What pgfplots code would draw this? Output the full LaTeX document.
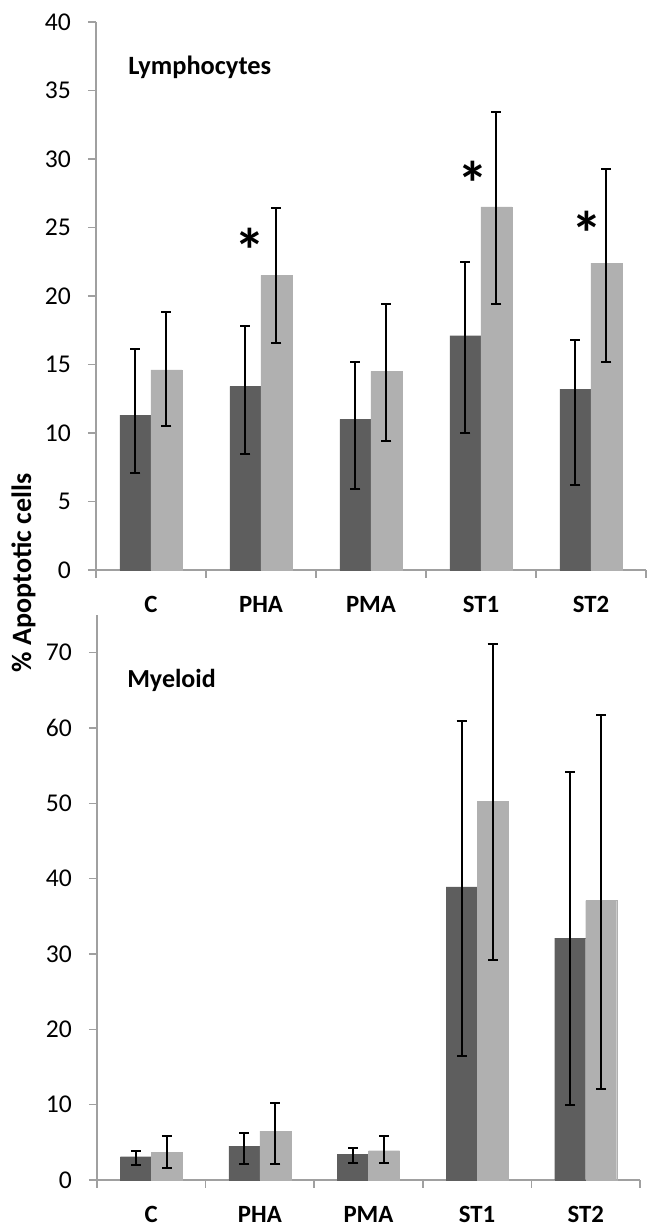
\documentclass[border=0pt]{standalone}
\usepackage{fontspec}
\setmainfont{Carlito}
\usepackage{pgfplots}
\pgfplotsset{compat=1.18}
\definecolor{darkbar}{HTML}{5E5E5E}
\definecolor{lightbar}{HTML}{B0B0B0}
\definecolor{axisgray}{HTML}{A0A0A0}
\pgfplotsset{
  panel/.style={
    scale only axis,
    anchor=south west,
    axis lines*=left,
    xmin=-0.5, xmax=4.5, ymin=0,
    xtick={0,1,2,3,4},
    xticklabels={C,PHA,PMA,ST1,ST2},
    minor xtick={-0.5,0.5,1.5,2.5,3.5,4.5},
    major x tick style={draw=none},
    tick align=outside,
    major tick length=4pt, minor tick length=4pt,
    every tick/.style={axisgray, line width=0.8pt},
    axis line style={axisgray, line width=0.9pt},
    xticklabel style={font=\bfseries\fontsize{12.4}{14}\selectfont, yshift=-5.5pt},
    yticklabel style={font=\fontsize{12.8}{14}\selectfont, xshift=-5pt},
    /pgf/number format/assume math mode=true,
    ybar=0pt, bar width=15.5pt,
    clip=false,
  },
  errs/.style={
    error bars/y dir=both,
    error bars/y explicit,
    error bars/error mark=-,
    error bars/error bar style={draw=black, solid, line width=1pt},
    error bars/error mark options={draw=black, solid, line width=1pt, mark size=2.5pt, rotate=90},
  },
  darkplot/.style={fill=darkbar, draw=darkbar, line width=0.1pt, errs},
  lightplot/.style={fill=lightbar, draw=lightbar, line width=0.1pt, errs},
}
\newcommand{\starfont}{\bfseries\fontsize{31}{31}\selectfont}
\begin{document}
\begin{tikzpicture}[x=1pt,y=1pt]
\useasboundingbox (0,0) rectangle (324,613.5);
% Top panel: Lymphocytes
\begin{axis}[panel, at={(48pt,328.5pt)}, width=275pt, height=274pt,
  ymax=40, ytick={0,5,...,40}]
\addplot[darkplot] coordinates {
  (0,11.3) += (0,4.8) -= (0,4.2)
  (1,13.4) += (0,4.4) -= (0,4.9)
  (2,11.0) += (0,4.2) -= (0,5.1)
  (3,17.1) += (0,5.4) -= (0,7.1)
  (4,13.2) += (0,3.6) -= (0,7.0)
};
\addplot[lightplot] coordinates {
  (0,14.6) += (0,4.2) -= (0,4.1)
  (1,21.5) += (0,4.9) -= (0,4.9)
  (2,14.5) += (0,4.9) -= (0,5.1)
  (3,26.5) += (0,6.9) -= (0,7.1)
  (4,22.4) += (0,6.9) -= (0,7.2)
};
\node[anchor=west, font=\bfseries\fontsize{13.2}{15}\selectfont, inner sep=0pt] at (rel axis cs:0.058,0.918) {Lymphocytes};
\node[anchor=north, font=\starfont, inner sep=0pt] at (axis cs:0.90,24.95) {*};
\node[anchor=north, font=\starfont, inner sep=0pt] at (axis cs:2.93,29.85) {*};
\node[anchor=north, font=\starfont, inner sep=0pt] at (axis cs:3.96,26.25) {*};
\end{axis}
% Bottom panel: Myeloid
\begin{axis}[panel, at={(48.5pt,23.5pt)}, width=271.5pt, height=282.5pt,
  ymax=75, ytick={0,10,...,70}]
\addplot[darkplot] coordinates {
  (0,3.1) += (0,0.7) -= (0,1.1)
  (1,4.5) += (0,1.8) -= (0,2.4)
  (2,3.4) += (0,0.8) -= (0,1.2)
  (3,38.9) += (0,22.0) -= (0,22.4)
  (4,32.1) += (0,22.1) -= (0,22.1)
};
\addplot[lightplot] coordinates {
  (0,3.7) += (0,2.1) -= (0,2.1)
  (1,6.5) += (0,3.7) -= (0,4.4)
  (2,3.9) += (0,1.9) -= (0,1.7)
  (3,50.3) += (0,20.8) -= (0,21.1)
  (4,37.1) += (0,24.6) -= (0,25.0)
};
\node[anchor=west, font=\bfseries\fontsize{13}{15}\selectfont, inner sep=0pt] at (rel axis cs:0.055,0.885) {Myeloid};
\end{axis}
\node[rotate=90, font=\bfseries\fontsize{14}{16}\selectfont, inner sep=0pt] at (11.75pt,327pt) {\% Apoptotic cells};
\end{tikzpicture}
\end{document}
